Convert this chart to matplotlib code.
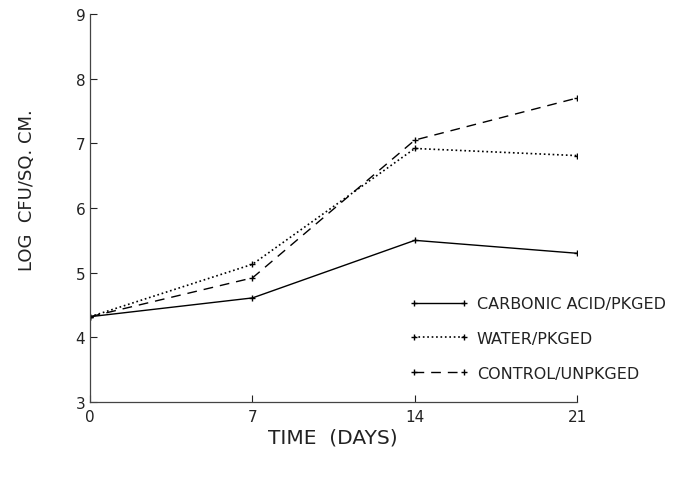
import matplotlib
matplotlib.use("Agg")
import matplotlib.pyplot as plt

days = [0, 7, 14, 21]
carbonic = [4.32, 4.61, 5.50, 5.30]
water = [4.32, 5.13, 6.92, 6.81]
control = [4.32, 4.92, 7.05, 7.70]
labels = ["CARBONIC ACID/PKGED", "WATER/PKGED", "CONTROL/UNPKGED"]

INK = "#222222"
plt.rcParams.update({"font.family": "DejaVu Sans", "font.size": 10,
                     "text.color": INK, "xtick.color": INK, "ytick.color": INK,
                     "axes.edgecolor": "#444444"})

fig = plt.figure(figsize=(6.83, 4.81), dpi=100)
ax = fig.add_axes([0.132, 0.162, 0.713, 0.807])

ax.plot(days, carbonic, "-", color="black", lw=1.0, marker="+", ms=4, label=labels[0])
ax.plot(days, water, ":", color="black", lw=1.2, marker="+", ms=4, label=labels[1])
ax.plot(days, control, color="black", lw=1.0, dashes=(7, 5), marker="+", ms=4, label=labels[2])

ax.set_xlim(0, 21)
ax.set_ylim(3, 9)
ax.set_xticks(days)
ax.set_yticks(range(3, 10))
ax.tick_params(direction="in", length=5, width=0.8, labelsize=11)
ax.tick_params(axis="x", pad=5)
for s in ("top", "right"):
    ax.spines[s].set_visible(False)
for s in ("left", "bottom"):
    ax.spines[s].set_linewidth(0.9)

fig.text(0.488, 0.089, "TIME  (DAYS)", ha="center", va="center", fontsize=14.5)
fig.text(0.04, 0.605, "LOG  CFU/SQ. CM.", ha="center", va="center", rotation=90, fontsize=13)

ax.legend(frameon=False, loc="upper left", bbox_to_anchor=(0.625, 0.31), numpoints=2,
          handlelength=3.75, labelspacing=1.25, fontsize=11.5, handletextpad=0.5)

fig.savefig("out.png", dpi=100)
